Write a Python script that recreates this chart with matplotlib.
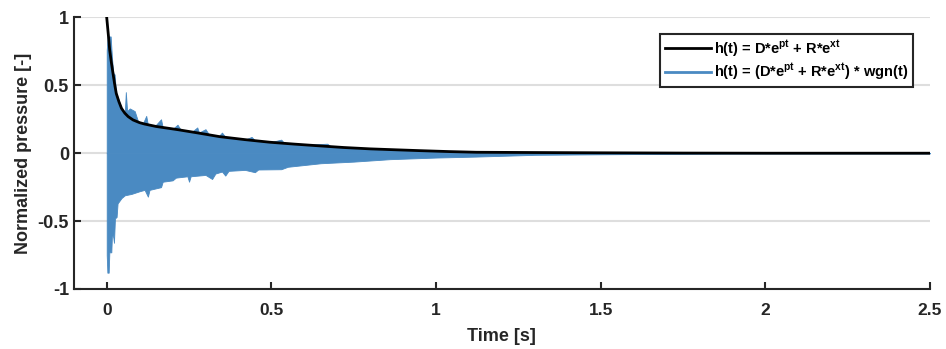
import matplotlib
matplotlib.use('Agg')
import matplotlib.pyplot as plt
from matplotlib.lines import Line2D

# model curve h(t)
t_model = [0.0, 0.005, 0.009, 0.014, 0.019, 0.024, 0.029, 0.037, 0.045, 0.055,
           0.065, 0.08, 0.1, 0.115, 0.15, 0.217, 0.28, 0.343, 0.42, 0.495,
           0.57, 0.647, 0.72, 0.8, 0.88, 0.95, 1.04, 1.123, 1.3, 1.5,
           1.75, 2.0, 2.5]
h_model = [1.0, 0.87, 0.76, 0.67, 0.59, 0.51, 0.44, 0.38, 0.33, 0.295,
           0.27, 0.245, 0.225, 0.215, 0.197, 0.173, 0.148, 0.122, 0.1, 0.081,
           0.067, 0.054, 0.042, 0.032, 0.025, 0.019, 0.012, 0.007, 0.005, 0.003,
           0.001, 0.0, 0.0]

# noisy signal: upper envelope (with visible spikes)
t_up = [0.0, 0.003, 0.012, 0.016, 0.02, 0.024, 0.028, 0.035, 0.045, 0.055,
        0.058, 0.062, 0.07, 0.085, 0.095, 0.11, 0.12, 0.125, 0.145, 0.165,
        0.17, 0.2, 0.215, 0.225, 0.26, 0.275, 0.28, 0.3, 0.31, 0.34,
        0.35, 0.36, 0.42, 0.44, 0.45, 0.495, 0.53, 0.54, 0.6, 0.67,
        0.68, 0.75, 0.86, 1.0, 1.12, 1.3, 1.5, 1.75, 2.0, 2.5]
upper = [0.76, 0.86, 0.86, 0.70, 0.59, 0.58, 0.45, 0.40, 0.33, 0.30,
         0.45, 0.31, 0.33, 0.31, 0.235, 0.22, 0.275, 0.21, 0.197, 0.25,
         0.19, 0.178, 0.21, 0.172, 0.16, 0.19, 0.152, 0.177, 0.14, 0.125,
         0.152, 0.12, 0.1, 0.12, 0.095, 0.08, 0.1, 0.072, 0.062, 0.07,
         0.05, 0.035, 0.024, 0.015, 0.006, 0.004, 0.003, 0.002, 0.0, 0.0]

# noisy signal: lower envelope
t_lo = [0.0, 0.002, 0.006, 0.008, 0.014, 0.016, 0.02, 0.022, 0.025, 0.03,
        0.033, 0.045, 0.055, 0.075, 0.1, 0.115, 0.125, 0.13, 0.165, 0.17,
        0.2, 0.21, 0.245, 0.25, 0.255, 0.3, 0.32, 0.33, 0.35, 0.36,
        0.37, 0.42, 0.45, 0.46, 0.53, 0.55, 0.65, 0.75, 0.86, 1.0,
        1.12, 1.3, 1.5, 1.75, 2.0, 2.5]
lower = [-0.75, -0.88, -0.88, -0.73, -0.73, -0.59, -0.62, -0.66, -0.48, -0.47,
         -0.37, -0.33, -0.31, -0.30, -0.28, -0.27, -0.32, -0.27, -0.25, -0.21,
         -0.2, -0.18, -0.17, -0.21, -0.17, -0.16, -0.19, -0.15, -0.135, -0.165,
         -0.13, -0.123, -0.14, -0.12, -0.118, -0.1, -0.074, -0.062, -0.044, -0.032,
         -0.025, -0.012, -0.008, -0.004, 0.0, 0.0]

blue = '#4A8AC2'
dark = '#262626'

plt.rcParams['font.family'] = ['Liberation Sans', 'DejaVu Sans']
plt.rcParams['font.weight'] = 'bold'
plt.rcParams['mathtext.fontset'] = 'custom'
plt.rcParams['mathtext.bf'] = 'Liberation Sans:bold'
plt.rcParams['mathtext.rm'] = 'Liberation Sans:bold'
plt.rcParams['mathtext.default'] = 'bf'

fig = plt.figure(figsize=(9.46, 3.49), dpi=100)
ax = fig.add_axes([0.078, 0.172, 0.905, 0.778])

# blue signal as two filled halves
ax.fill_between(t_up, 0, upper, color=blue, lw=0.6, edgecolor=blue, zorder=2)
ax.fill_between(t_lo, lower, 0, color=blue, lw=0.6, edgecolor=blue, zorder=2)
ax.plot(t_model, h_model, color='black', lw=2, zorder=3)

ax.set_xlim(-0.1, 2.5)
ax.set_ylim(-1, 1)
ax.set_xticks([0, 0.5, 1, 1.5, 2, 2.5])
ax.set_xticklabels(['0', '0.5', '1', '1.5', '2', '2.5'])
ax.set_yticks([-1, -0.5, 0, 0.5, 1])
ax.set_yticklabels(['-1', '-0.5', '0', '0.5', '1'])

ax.grid(axis='y', color='#dedede', lw=1.5, zorder=0)
ax.set_axisbelow(True)
for s in ['top', 'right']:
    ax.spines[s].set_visible(False)
for s in ['left', 'bottom']:
    ax.spines[s].set_color(dark)
    ax.spines[s].set_linewidth(1.5)
ax.tick_params(direction='in', length=5, width=1.5, color=dark,
               labelcolor=dark, labelsize=13)
ax.tick_params(axis='x', pad=10, labelsize=12.5)

ax.set_xlabel('Time [s]', fontsize=13, fontweight='bold', color=dark, labelpad=7)
ax.set_ylabel('Normalized pressure [-]', fontsize=13, fontweight='bold',
              color=dark, labelpad=4)

handles = [Line2D([], [], color='black', lw=2), Line2D([], [], color=blue, lw=2)]
labels = ['h(t) = D*e$^{pt}$ + R*e$^{xt}$',
          'h(t) = (D*e$^{pt}$ + R*e$^{xt}$) * wgn(t)']
leg = ax.legend(handles, labels, loc='upper right', bbox_to_anchor=(0.98, 0.94),
                borderaxespad=0, fancybox=False, framealpha=1, edgecolor=dark,
                fontsize=10.5, handlelength=3.2, handletextpad=0.2,
                borderpad=0.3, labelspacing=0.2)
leg.get_frame().set_linewidth(1.5)

fig.savefig('out.png', dpi=100)
